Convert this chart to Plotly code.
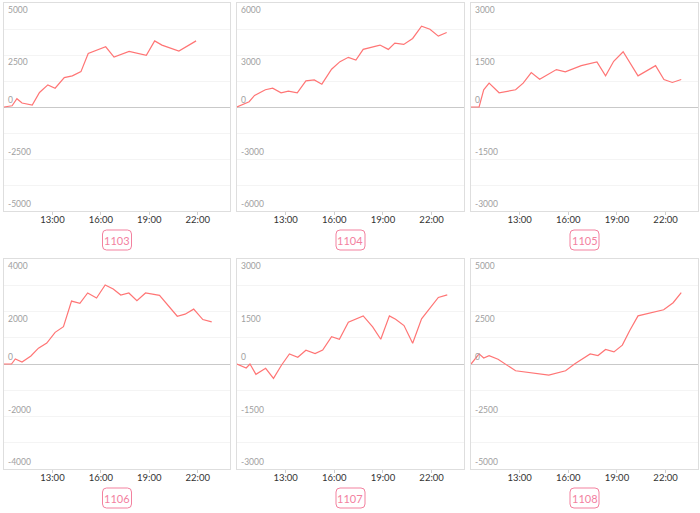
import plotly.graph_objects as go

W, H = 700, 513
BASE = "2024-01-01 "

names = ["1103", "1104", "1105", "1106", "1107", "1108"]

t_1103 = ["10:00", "10:30", "10:48", "11:07", "11:45", "12:12", "12:43", "13:10", "13:44", "14:14",
          "14:46", "15:13", "16:18", "16:49", "17:45", "18:49", "19:20", "19:47", "20:50", "21:54"]
v_1103 = [0, 60, 400, 190, 95, 700, 1065, 905, 1415, 1495,
          1700, 2575, 2895, 2400, 2670, 2480, 3180, 2975, 2690, 3180]

t_1104 = ["10:00", "10:45", "11:05", "11:45", "12:12", "12:43", "13:10", "13:43", "14:15", "14:46",
          "15:14", "15:50", "16:21", "16:52", "17:20", "17:47", "18:49", "19:20", "19:44", "20:17",
          "20:50", "21:23", "21:54", "22:25", "22:56"]
v_1104 = [0, 306, 670, 993, 1090, 820, 917, 820, 1510, 1566,
          1318, 2180, 2617, 2866, 2712, 3323, 3572, 3323, 3687, 3610,
          3954, 4660, 4490, 4087, 4297]

t_1105 = ["10:00", "10:30", "10:47", "11:07", "11:44", "12:45", "13:13", "13:43", "14:14", "14:45",
          "15:16", "15:49", "16:48", "17:46", "18:18", "18:48", "19:23", "20:18", "21:23", "21:54",
          "22:25", "22:58"]
v_1105 = [0, 0, 497, 688, 411, 497, 688, 993, 802, 936,
          1079, 1012, 1194, 1299, 898, 1318, 1595, 898, 1194, 793,
          707, 793]

t_1106 = ["10:00", "10:28", "10:42", "11:07", "11:40", "12:08", "12:39", "13:10", "13:41", "14:11",
          "14:42", "15:11", "15:44", "16:16", "16:46", "17:14", "17:44", "18:14", "18:46", "19:38",
          "20:44", "21:13", "21:45", "22:19", "22:52"]
v_1106 = [0, 0, 192, 77, 308, 603, 795, 1205, 1423, 2397,
          2308, 2705, 2513, 3013, 2859, 2628, 2705, 2410, 2705, 2615,
          1820, 1897, 2090, 1692, 1603]

t_1107 = ["10:00", "10:34", "10:48", "11:10", "11:46", "12:15", "12:45", "13:14", "13:45", "14:15",
          "14:49", "15:17", "15:50", "16:19", "16:52", "17:47", "18:22", "18:52", "19:24", "19:47",
          "20:18", "20:50", "21:23", "21:54", "22:25", "22:58"]
v_1107 = [0, -115, 0, -296, -124, -411, -29, 287, 191, 392,
          296, 401, 783, 707, 1194, 1375, 1060, 707, 1375, 1280,
          1098, 592, 1289, 1595, 1900, 1977]

t_1108 = ["10:00", "10:30", "10:47", "11:07", "11:40", "12:08", "12:45", "14:48", "15:50", "16:23",
          "17:21", "17:50", "18:18", "18:49", "19:20", "19:47", "20:18", "21:53", "22:28", "22:58"]
v_1108 = [0, 481, 289, 401, 224, 0, -321, -529, -321, 0,
          481, 401, 689, 577, 898, 1587, 2292, 2581, 2918, 3398]

times = [t_1103, t_1104, t_1105, t_1106, t_1107, t_1108]
values = [v_1103, v_1104, v_1105, v_1106, v_1107, v_1108]

y_ticks = [
    [5000, 2500, 0, -2500, -5000],
    [6000, 3000, 0, -3000, -6000],
    [3000, 1500, 0, -1500, -3000],
    [4000, 2000, 0, -2000, -4000],
    [3000, 1500, 0, -1500, -3000],
    [5000, 2500, 0, -2500, -5000],
]
x_ticks = ["13:00", "16:00", "19:00", "22:00"]
x_range = ["2024-01-01 10:00", "2024-01-02 00:00"]

# panel pixel boxes (left, right, top, bottom)
cols_px = [(4, 230), (237, 464), (471, 698)]
rows_px = [(3, 211), (259, 469)]
label_cy = [240, 498]

LINE = "#ff7575"
PINK = "#f3819f"
FONT = "Lato, 'Open Sans', sans-serif"

fig = go.Figure()
layout = dict(width=W, height=H, margin=dict(l=0, r=0, t=0, b=0),
              plot_bgcolor="white", paper_bgcolor="white", showlegend=False,
              font=dict(family=FONT))
annotations = []
shapes = []


def rounded_rect(cx, cy, w, h, r):
    x0, x1 = cx - w / 2, cx + w / 2
    y0, y1 = cy - h / 2, cy + h / 2
    px = lambda v: v / W
    py = lambda v: 1 - v / H
    p = (f"M {px(x0 + r)},{py(y0)} L {px(x1 - r)},{py(y0)} Q {px(x1)},{py(y0)} {px(x1)},{py(y0 + r)} "
         f"L {px(x1)},{py(y1 - r)} Q {px(x1)},{py(y1)} {px(x1 - r)},{py(y1)} "
         f"L {px(x0 + r)},{py(y1)} Q {px(x0)},{py(y1)} {px(x0)},{py(y1 - r)} "
         f"L {px(x0)},{py(y0 + r)} Q {px(x0)},{py(y0)} {px(x0 + r)},{py(y0)} Z")
    return p


for i in range(6):
    r, c = divmod(i, 3)
    k = "" if i == 0 else str(i + 1)
    xa, ya = "x" + k, "y" + k
    l, rr = cols_px[c]
    t, b = rows_px[r]
    ymax = y_ticks[i][0]
    fig.add_trace(go.Scatter(
        x=[BASE + s for s in times[i]], y=values[i], mode="lines",
        line=dict(color=LINE, width=1.2), xaxis=xa, yaxis=ya, hoverinfo="x+y"))
    layout["xaxis" + k] = dict(
        domain=[l / W, rr / W], anchor=ya, type="date", range=x_range,
        tickvals=[BASE + s for s in x_ticks], ticktext=x_ticks,
        showgrid=False, zeroline=False, showline=True, mirror=True,
        linecolor="#dedede", linewidth=1, ticks="outside", ticklen=3,
        ticklabelstandoff=-3,
        tickcolor="#cfcfcf", tickfont=dict(size=9.5, color="#333", family=FONT))
    layout["yaxis" + k] = dict(
        domain=[1 - b / H, 1 - t / H], anchor=xa, range=[-ymax, ymax],
        tick0=0, dtick=ymax / 4, showticklabels=False, ticks="",
        showgrid=True, gridcolor="#f4f4f4", gridwidth=1,
        zeroline=True, zerolinecolor="#c9c9c9", zerolinewidth=1,
        showline=True, mirror=True, linecolor="#dedede", linewidth=1)
    for v in y_ticks[i]:
        annotations.append(dict(
            x=0, xref=xa + " domain", y=v, yref=ya, text=str(v), showarrow=False,
            xanchor="left", yanchor="top" if v > 0 else "bottom", xshift=2,
            font=dict(size=8.5, color="#a0a0a0", family=FONT)))
    cx = (l + rr) / 2
    cy = label_cy[r]
    shapes.append(dict(type="path", xref="paper", yref="paper",
                       path=rounded_rect(cx, cy, 29, 20, 4),
                       line=dict(color=PINK, width=1), fillcolor="white"))
    annotations.append(dict(
        x=cx / W, y=1 - cy / H, xref="paper", yref="paper", text=names[i],
        showarrow=False, xanchor="center", yanchor="middle",
        font=dict(size=11, color=PINK, family=FONT)))

layout["annotations"] = annotations
layout["shapes"] = shapes
fig.update_layout(**layout)
fig.write_html("out.html", config={"displayModeBar": False},
               post_script="document.body.style.margin='0px';")
